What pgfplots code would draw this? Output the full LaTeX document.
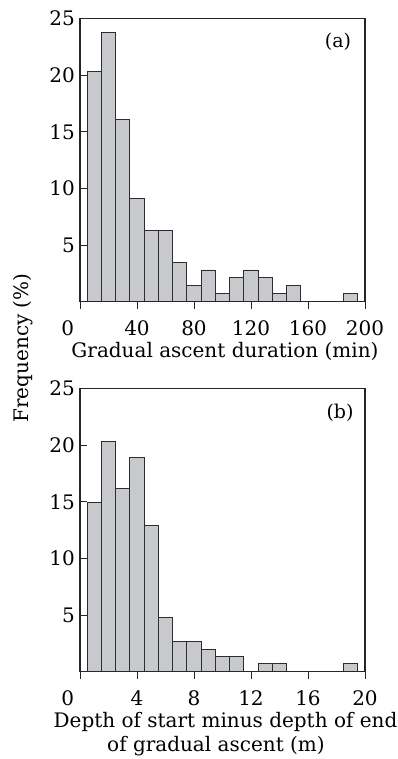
\documentclass[border=0pt]{standalone}
\usepackage{fontspec}
\setmainfont{DejaVu Serif}
\usepackage{pgfplots}
\pgfplotsset{compat=1.18}
\definecolor{barfill}{RGB}{200,201,204}
\definecolor{baredge}{RGB}{45,45,45}
\newcommand{\mainsize}{\fontsize{20}{24}\selectfont}
\pgfplotsset{
  panel/.style={
    scale only axis, width=285pt, height=283.2pt,
    ymin=0, ymax=25, ytick={5,10,15,20,25},
    yticklabels={5,10,15,20,25},
    tick align=inside, tick pos=left, major tick length=7pt,
    axis line style={line width=1.1pt, draw=black!85},
    tick style={line width=1pt, draw=black!85},
    axis on top,
    xticklabel style={inner sep=0pt, yshift=-11.3pt, font=\mainsize},
    yticklabel style={inner sep=0pt, xshift=-5pt, font=\mainsize},
    ybar, bar shift=0pt,
  },
  barstyle/.style={fill=barfill, draw=baredge, line width=0.9pt},
}
\begin{document}
\begin{tikzpicture}[font=\mainsize]
\useasboundingbox (0,0) rectangle (398pt,-759pt);
% Panel (a)
\begin{axis}[panel, at={(80pt,-301.7pt)}, anchor=south west,
  xmin=0, xmax=200, xtick={0,40,80,120,160,200},
  xticklabels={\makebox[0pt][r]{0\hspace{6pt}},40,80,120,160,200},
  bar width=10]
\addplot[barstyle] coordinates {
(10,20.3) (20,23.8) (30,16.1) (40,9.1) (50,6.3) (60,6.3) (70,3.5) (80,1.4)
(90,2.8) (100,0.7) (110,2.1) (120,2.8) (130,2.1) (140,0.7) (150,1.4) (190,0.7)};
\end{axis}
% Panel (b)
\begin{axis}[panel, at={(80pt,-671.7pt)}, anchor=south west,
  xmin=0, xmax=20, xtick={0,4,8,12,16,20},
  xticklabels={\makebox[0pt][r]{0\hspace{6pt}},4,8,12,16,20},
  bar width=1]
\addplot[barstyle] coordinates {
(1,14.9) (2,20.3) (3,16.2) (4,18.9) (5,12.9) (6,4.75) (7,2.7) (8,2.7)
(9,2.0) (10,1.33) (11,1.33) (13,0.7) (14,0.7) (19,0.7)};
\end{axis}
\node[font=\fontsize{19}{22}\selectfont] at (338pt,-41.5pt) {(a)};
\node[font=\fontsize{19}{22}\selectfont] at (340pt,-412.7pt) {(b)};
\node[anchor=base] at (225pt,-357.5pt) {Gradual ascent duration (min)};
\node[anchor=base] at (225.5pt,-727pt) {Depth of start minus depth of end};
\node[anchor=base] at (216pt,-751pt) {of gradual ascent (m)};
\node[anchor=base, rotate=90] at (28pt,-348pt) {Frequency (\%)};
\end{tikzpicture}
\end{document}
